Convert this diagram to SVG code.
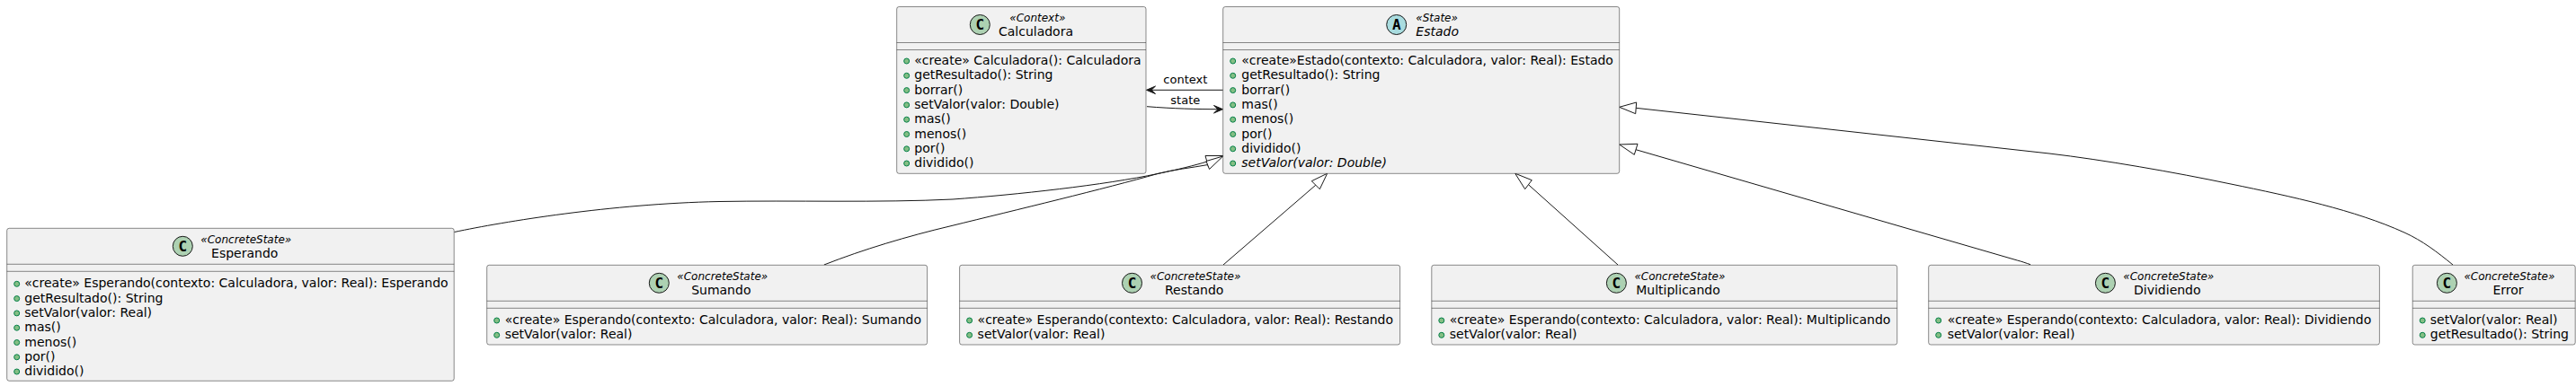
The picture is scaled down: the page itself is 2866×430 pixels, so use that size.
<svg xmlns="http://www.w3.org/2000/svg" width="2866" height="430" viewBox="0 0 2866 430">
<style>
text{font-family:"DejaVu Sans",sans-serif;fill:#000}
.box{fill:#F1F1F1;stroke:#181818;stroke-width:.5}
.sep{stroke:#181818;stroke-width:.5;fill:none}
.c{fill:#ADD1B2;stroke:#181818;stroke-width:1}
.a{fill:#A9DCDF;stroke:#181818;stroke-width:1}
.g{font-family:"DejaVu Sans Mono",monospace;font-weight:bold;font-size:16px;text-anchor:middle}
.st{font-size:12px;font-style:italic}
.nm{font-size:14px;text-anchor:middle}
.m{font-size:14px}
.i{fill:#84BE84;stroke:#038048;stroke-width:1}
.e{fill:none;stroke:#181818;stroke-width:1}
.t{fill:#fff;stroke:#181818;stroke-width:1}
.h{fill:#181818;stroke:#181818;stroke-width:1}
.l{font-size:13px}
</style>
<defs><circle id="ic" r="3" class="i"/></defs>
<g id="connectors">
<path class="e" d="M1360.7 100.3H1278"/><polygon class="h" points="1275.5,100.3 1285.5,104.5 1281,100.3 1285.5,96"/>
<path class="e" d="M1276 118.7C1305 121 1330 121.7 1357 121.7"/><polygon class="h" points="1360.5,121.7 1350.5,117.5 1355,121.7 1350.5,126"/>
<path class="e" d="M505.5 258.5C560 247 680 227 800 224.5C880 223 980 226 1060 222C1130 217 1230 206 1288 193.5C1310 189 1330 184 1343 180"/>
<polygon class="t" points="1360.7,173.5 1341,173.5 1344.5,186"/>
<path class="e" d="M916.8 295C960 278 1010 263 1058 251.7C1130 234 1230 210 1288 193.5C1305 189 1325 187 1344 183.5"/>
<polygon class="t" points="1360.7,174 1342,179.5 1345.5,188.5"/>
<path class="e" d="M1361 295L1463.8 206.2"/><polygon class="t" points="1476.7,193.2 1459.3,201.7 1468.3,210.7"/>
<path class="e" d="M1800 295L1700.5 205.7"/><polygon class="t" points="1685.7,193.2 1704.3,200.7 1696.7,210.7"/>
<path class="e" d="M2259 294.7C2254 293 2250 291.5 2244.3 290L1820 166.7"/><polygon class="t" points="1801.7,161 1822,160.3 1818.3,172.3"/>
<path class="e" d="M2729 295C2712 281 2695 268 2675 259C2620 234 2550 219 2482 205C2420 192 2340 178 2280 171L1820 120.3"/><polygon class="t" points="1801.7,119.3 1820.7,114 1819.7,126.7"/>
<text class="l" x="1294.3" y="92.7">context</text>
<text class="l" x="1302.3" y="115.7">state</text>
</g>
<g id="Calculadora">
<rect class="box" x="997.7" y="7.5" width="277.3" height="185.8" rx="2.5"/>
<path class="sep" d="M997.7 47.5H1275M997.7 55.5H1275"/>
<circle class="c" cx="1090.3" cy="27.5" r="11"/><text class="g" x="1090.3" y="33">C</text>
<text class="st" x="1123.3" y="24">«Context»</text>
<text class="nm" x="1152.5" y="39.5">Calculadora</text>
<use href="#ic" x="1008.7" y="68"/><text class="m" x="1017.3" y="72">«create» Calculadora(): Calculadora</text>
<use href="#ic" x="1008.7" y="84.3"/><text class="m" x="1017.3" y="88.3">getResultado(): String</text>
<use href="#ic" x="1008.7" y="100.6"/><text class="m" x="1017.3" y="104.6">borrar()</text>
<use href="#ic" x="1008.7" y="116.9"/><text class="m" x="1017.3" y="120.9">setValor(valor: Double)</text>
<use href="#ic" x="1008.7" y="133.2"/><text class="m" x="1017.3" y="137.2">mas()</text>
<use href="#ic" x="1008.7" y="149.5"/><text class="m" x="1017.3" y="153.5">menos()</text>
<use href="#ic" x="1008.7" y="165.8"/><text class="m" x="1017.3" y="169.8">por()</text>
<use href="#ic" x="1008.7" y="182"/><text class="m" x="1017.3" y="186">dividido()</text>
</g>
<g id="Estado">
<rect class="box" x="1360.7" y="7.5" width="441" height="185.8" rx="2.5"/>
<path class="sep" d="M1360.7 47.5H1801.7M1360.7 55.5H1801.7"/>
<circle class="a" cx="1553.7" cy="27.5" r="11"/><text class="g" x="1553.7" y="33">A</text>
<text class="st" x="1575.3" y="24">«State»</text>
<text class="m" font-style="italic" x="1575.3" y="39.5">Estado</text>
<use href="#ic" x="1371.7" y="68"/><text class="m" x="1381.3" y="72">«create»Estado(contexto: Calculadora, valor: Real): Estado</text>
<use href="#ic" x="1371.7" y="84.3"/><text class="m" x="1381.3" y="88.3">getResultado(): String</text>
<use href="#ic" x="1371.7" y="100.6"/><text class="m" x="1381.3" y="104.6">borrar()</text>
<use href="#ic" x="1371.7" y="116.9"/><text class="m" x="1381.3" y="120.9">mas()</text>
<use href="#ic" x="1371.7" y="133.2"/><text class="m" x="1381.3" y="137.2">menos()</text>
<use href="#ic" x="1371.7" y="149.5"/><text class="m" x="1381.3" y="153.5">por()</text>
<use href="#ic" x="1371.7" y="165.8"/><text class="m" x="1381.3" y="169.8">dividido()</text>
<use href="#ic" x="1371.7" y="182"/><text class="m" font-style="italic" x="1381.3" y="186">setValor(valor: Double)</text>
</g>
<g id="Esperando">
<rect class="box" x="7.7" y="254.3" width="497.5" height="170" rx="2.5"/>
<path class="sep" d="M7.7 294.3H505.2M7.7 302.3H505.2"/>
<circle class="c" cx="203.3" cy="274.3" r="11"/><text class="g" x="203.3" y="280">C</text>
<text class="st" x="223.3" y="271">«ConcreteState»</text>
<text class="nm" x="272.2" y="286.5">Esperando</text>
<use href="#ic" x="18.7" y="316.3"/><text class="m" x="27.3" y="320.3">«create» Esperando(contexto: Calculadora, valor: Real): Esperando</text>
<use href="#ic" x="18.7" y="332.6"/><text class="m" x="27.3" y="336.6">getResultado(): String</text>
<use href="#ic" x="18.7" y="348.9"/><text class="m" x="27.3" y="352.9">setValor(valor: Real)</text>
<use href="#ic" x="18.7" y="365.2"/><text class="m" x="27.3" y="369.2">mas()</text>
<use href="#ic" x="18.7" y="381.5"/><text class="m" x="27.3" y="385.5">menos()</text>
<use href="#ic" x="18.7" y="397.8"/><text class="m" x="27.3" y="401.8">por()</text>
<use href="#ic" x="18.7" y="414"/><text class="m" x="27.3" y="418">dividido()</text>
</g>
<g id="Sumando">
<rect class="box" x="541.7" y="295.3" width="489.9" height="88.7" rx="2.5"/>
<path class="sep" d="M541.7 335.3H1031.6M541.7 343.3H1031.6"/>
<circle class="c" cx="733.3" cy="315.3" r="11"/><text class="g" x="733.3" y="321">C</text>
<text class="st" x="753.3" y="312">«ConcreteState»</text>
<text class="nm" x="802.3" y="327.5">Sumando</text>
<use href="#ic" x="552.7" y="357"/><text class="m" x="561.7" y="361">«create» Esperando(contexto: Calculadora, valor: Real): Sumando</text>
<use href="#ic" x="552.7" y="373.3"/><text class="m" x="561.7" y="377.3">setValor(valor: Real)</text>
</g>
<g id="Restando">
<rect class="box" x="1067.6" y="295.3" width="490" height="88.7" rx="2.5"/>
<path class="sep" d="M1067.6 335.3H1557.6M1067.6 343.3H1557.6"/>
<circle class="c" cx="1259.5" cy="315.3" r="11"/><text class="g" x="1259.5" y="321">C</text>
<text class="st" x="1279.5" y="312">«ConcreteState»</text>
<text class="nm" x="1328.7" y="327.5">Restando</text>
<use href="#ic" x="1078.6" y="357"/><text class="m" x="1087.6" y="361">«create» Esperando(contexto: Calculadora, valor: Real): Restando</text>
<use href="#ic" x="1078.6" y="373.3"/><text class="m" x="1087.6" y="377.3">setValor(valor: Real)</text>
</g>
<g id="Multiplicando">
<rect class="box" x="1592.8" y="295.3" width="517.9" height="88.7" rx="2.5"/>
<path class="sep" d="M1592.8 335.3H2110.7M1592.8 343.3H2110.7"/>
<circle class="c" cx="1798.4" cy="315.3" r="11"/><text class="g" x="1798.4" y="321">C</text>
<text class="st" x="1818.4" y="312">«ConcreteState»</text>
<text class="nm" x="1867" y="327.5">Multiplicando</text>
<use href="#ic" x="1603.8" y="357"/><text class="m" x="1612.8" y="361">«create» Esperando(contexto: Calculadora, valor: Real): Multiplicando</text>
<use href="#ic" x="1603.8" y="373.3"/><text class="m" x="1612.8" y="377.3">setValor(valor: Real)</text>
</g>
<g id="Dividiendo">
<rect class="box" x="2145.7" y="295.3" width="501.7" height="88.7" rx="2.5"/>
<path class="sep" d="M2145.7 335.3H2647.4M2145.7 343.3H2647.4"/>
<circle class="c" cx="2342.4" cy="315.3" r="11"/><text class="g" x="2342.4" y="321">C</text>
<text class="st" x="2362.3" y="312">«ConcreteState»</text>
<text class="nm" x="2411.3" y="327.5">Dividiendo</text>
<use href="#ic" x="2156.7" y="357"/><text class="m" x="2166.7" y="361">«create» Esperando(contexto: Calculadora, valor: Real): Dividiendo</text>
<use href="#ic" x="2156.7" y="373.3"/><text class="m" x="2166.7" y="377.3">setValor(valor: Real)</text>
</g>
<g id="Error">
<rect class="box" x="2684.2" y="295.3" width="181" height="88.7" rx="2.5"/>
<path class="sep" d="M2684.2 335.3H2865.2M2684.2 343.3H2865.2"/>
<circle class="c" cx="2722.4" cy="315.3" r="11"/><text class="g" x="2722.4" y="321">C</text>
<text class="st" x="2741.4" y="312">«ConcreteState»</text>
<text class="nm" x="2790.5" y="327.5">Error</text>
<use href="#ic" x="2695.2" y="357"/><text class="m" x="2703.8" y="361">setValor(valor: Real)</text>
<use href="#ic" x="2695.2" y="373.3"/><text class="m" x="2703.8" y="377.3">getResultado(): String</text>
</g>
</svg>
